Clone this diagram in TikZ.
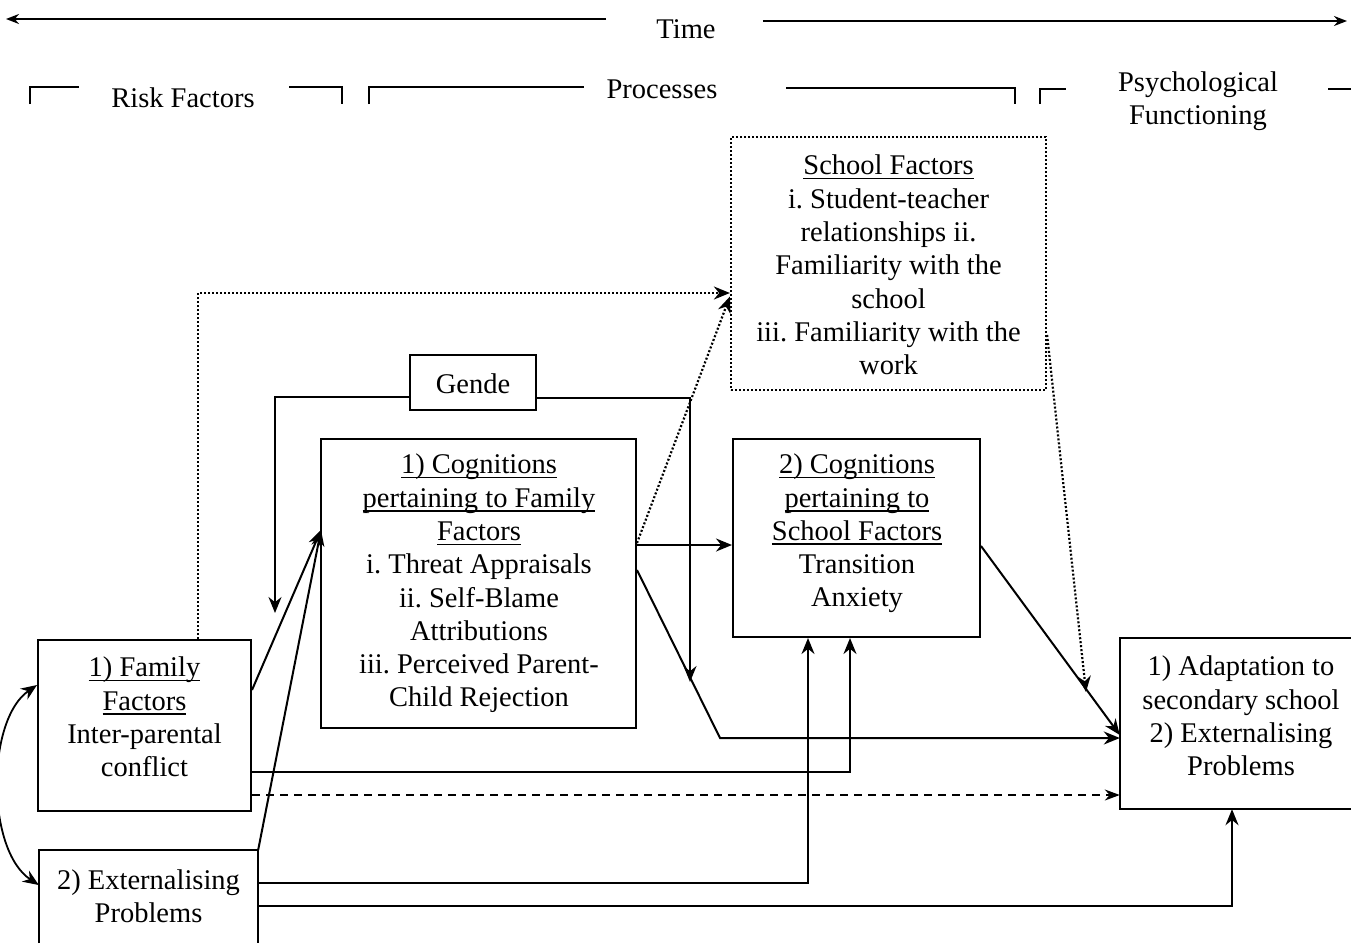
\documentclass[tikz,border=0pt]{standalone}
\usepackage{fontspec}
\setmainfont{Liberation Serif}
\usetikzlibrary{arrows.meta}
\newcommand{\myul}[1]{\leavevmode\setbox0=\hbox{#1}\rlap{\rule[-4.5pt]{\wd0}{1.4pt}}\box0}
\frenchspacing
\begin{document}
\begin{tikzpicture}[x=1pt,y=-1pt,
  every node/.style={font=\fontsize{28.5}{33.3}\selectfont, inner sep=0pt},
  box/.style={draw, line width=2pt},
  txt/.style={align=center},
  ln/.style={line width=2pt},
  arr/.style={line width=2pt, -{Stealth[length=16pt,width=13pt]}},
  tarr/.style={line width=2pt, -{Stealth[length=13pt,width=10pt]}},
  dot/.style={line width=2.2pt, dash pattern=on 2pt off 2pt, -{Stealth[length=16pt,width=13pt]}},
  dsh/.style={line width=1.4pt, dash pattern=on 8pt off 6pt, -{Stealth[length=15pt,width=11pt]}}]
\useasboundingbox (0,0) rectangle (1351,943);
\fill[white] (0,0) rectangle (1351,943);

% time axis
\node (time) at (686,29) {Time};
\coordinate (tl) at (6,19);
\coordinate (tr) at (1347,21);
\draw[tarr] ([xshift=-50pt,yshift=10pt]time.west) -- (tl);
\draw[tarr] ([xshift=47pt,yshift=8pt]time.east) -- (tr);

% phase brackets
\node (risk) at (183,98) {Risk Factors};
\node (proc) at (662,89) {Processes};
\node[txt] (psy) at (1198,101) {Psychological\\Functioning};
\draw[ln] (30,104) -- (30,87) -- (79,87);
\draw[ln] (289,87) -- (342,87) -- (342,104);
\draw[ln] (369,104) -- (369,87) -- (584,87);
\draw[ln] (786,88) -- (1015,88) -- (1015,104);
\draw[ln] (1040,104) -- (1040,89) -- (1066,89);
\draw[ln] (1328,89) -- (1351,89);

% boxes
\node[box, minimum width=213pt, minimum height=171pt] (fam) at (144.5,725.5) {};
\node[txt] (famt) at (144.5,717) {\myul{1) Family}\\\myul{Factors}\\Inter-parental\\conflict};

\node[minimum width=219pt, minimum height=93pt] (ext) at (148.5,896.5) {};
\draw[ln] (ext.south west) -- (ext.north west) -- (ext.north east) -- (ext.south east);
\node[txt] (extt) at (148.5,896) {2) Externalising\\Problems};

\node[box, minimum width=126pt, minimum height=55pt] (gende) at (473,382.5) {};
\node (gendet) at (473,384) {Gende};

\node[box, minimum width=315pt, minimum height=289pt] (cog1) at (478.5,583.5) {};
\node[txt] (cog1t) at (479,583.5) {\myul{1) Cognitions}\\\myul{pertaining to Family}\\\myul{Factors}\\i. Threat Appraisals\\ii. Self-Blame\\Attributions\\iii. Perceived Parent-\\Child Rejection};

\node[box, minimum width=247pt, minimum height=198pt] (cog2) at (856.5,538) {};
\node[txt] (cog2t) at (857,533.5) {\myul{2) Cognitions}\\\myul{pertaining to}\\\myul{School Factors}\\Transition\\Anxiety};

\node[box, dash pattern=on 2pt off 2pt, line width=2.2pt, minimum width=315pt, minimum height=253pt] (school) at (888.5,263.5) {};
\node[txt] (schoolt) at (888.5,265) {\myul{School Factors}\\i. Student-teacher\\relationships ii.\\Familiarity with the\\school\\iii. Familiarity with the\\work};

\node[minimum width=231pt, minimum height=171pt] (adp) at (1235.5,723.5) {};
\draw[ln] (adp.north east) -- (adp.north west) -- (adp.south west) -- (adp.south east);
\node[txt] (adpt) at (1241,716) {1) Adaptation to\\secondary school\\2) Externalising\\Problems};

% connectors
\coordinate (c1in) at (321,530);
\draw[arr] ([yshift=35.5pt]fam.east) -- (c1in);
\draw[arr] (ext.north east) -- (c1in);

\draw[arr] ([yshift=38.5pt]cog1.east) -- ([yshift=38.5pt]cog1.east -| cog2.west);
\draw[arr] ([yshift=13.5pt]cog1.east) -- (720,738) -- ([yshift=-14.5pt]adp.west);
\draw[arr] ([yshift=-8pt]cog2.east) -- ([yshift=-11.5pt]adp.west);

\draw[arr] ([yshift=-46.5pt]fam.east) -| ([xshift=-6.5pt]cog2.south);
\draw[arr] ([yshift=13.5pt]ext.east) -| ([xshift=-48.5pt]cog2.south);
\draw[dsh] ([yshift=-69.5pt]fam.east) -- ([yshift=-69.5pt]fam.east -| adp.west);
\draw[arr] ([yshift=-9.5pt]ext.east) -| ([xshift=-3.5pt]adp.south);

\coordinate (gl) at (275,613);
\coordinate (gr) at (690,682);
\draw[arr] ([yshift=-14.5pt]gende.west) -| (gl);
\draw[arr] ([yshift=-15.5pt]gende.east) -| (gr);

\draw[dot] ([xshift=53.5pt]fam.north) |- ([yshift=-29.5pt]school.west);
\draw[dot] ([yshift=40.5pt]cog1.east) -- ([yshift=-33pt]school.west);
\coordinate (sa) at (1086,692);
\draw[dot] ([yshift=-71.5pt]school.east) -- (sa);

\draw[line width=1.8pt, {Stealth[length=16pt,width=13pt]}-{Stealth[length=16pt,width=13pt]}]
  ([yshift=40.5pt]fam.west) .. controls (-14,720) and (-14,850) .. ([yshift=11.5pt]ext.west);
\end{tikzpicture}
\end{document}
